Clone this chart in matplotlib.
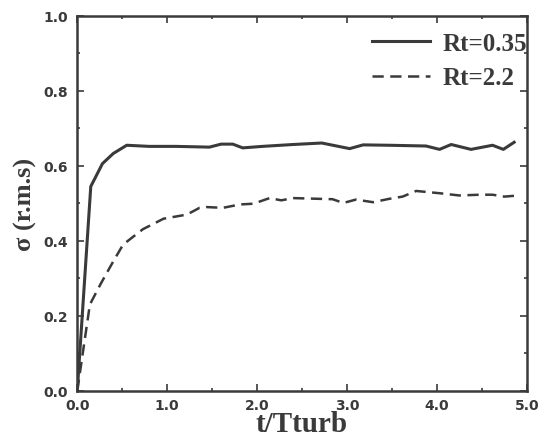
import matplotlib
matplotlib.use("Agg")
import matplotlib.pyplot as plt
from matplotlib.ticker import MultipleLocator, FormatStrFormatter

# Rt = 0.35 (solid)
t_a = [0.0, 0.15, 0.28, 0.40, 0.55, 0.80, 1.10, 1.47, 1.60, 1.73, 1.84, 2.06,
       2.40, 2.72, 3.03, 3.18, 3.47, 3.88, 4.03, 4.16, 4.38, 4.62, 4.74, 4.86]
s_a = [0.0, 0.545, 0.606, 0.633, 0.655, 0.652, 0.652, 0.650, 0.658, 0.658, 0.648, 0.652,
       0.657, 0.661, 0.646, 0.656, 0.655, 0.653, 0.644, 0.657, 0.644, 0.655, 0.644, 0.663]

# Rt = 2.2 (dashed)
t_b = [0.0, 0.14, 0.26, 0.40, 0.51, 0.73, 0.96, 1.22, 1.36, 1.44, 1.62, 1.81, 1.96,
       2.14, 2.27, 2.40, 2.84, 2.96, 3.10, 3.29, 3.47, 3.62, 3.77, 4.03, 4.25, 4.48,
       4.62, 4.75, 4.86]
s_b = [0.0, 0.23, 0.285, 0.345, 0.39, 0.431, 0.459, 0.47, 0.488, 0.49, 0.488, 0.497, 0.499,
       0.514, 0.508, 0.514, 0.511, 0.501, 0.51, 0.503, 0.512, 0.518, 0.533, 0.527, 0.521, 0.523,
       0.523, 0.518, 0.52]

labels = ["Rt=0.35", "Rt=2.2"]
ink = "#3a3a3a"

fig = plt.figure(figsize=(5.39, 4.39), dpi=100)
ax = fig.add_axes([0.1434, 0.1078, 0.8338, 0.8535])

ax.plot(t_a, s_a, color=ink, lw=2.2, label=labels[0])
line_b, = ax.plot(t_b, s_b, color=ink, lw=1.8, label=labels[1])
line_b.set_dashes((4.5, 2.6))

ax.set_xlim(0, 5)
ax.set_ylim(0, 1)
ax.xaxis.set_major_locator(MultipleLocator(1.0))
ax.xaxis.set_minor_locator(MultipleLocator(0.5))
ax.yaxis.set_major_locator(MultipleLocator(0.2))
ax.yaxis.set_minor_locator(MultipleLocator(0.1))
ax.xaxis.set_major_formatter(FormatStrFormatter("%.1f"))
ax.yaxis.set_major_formatter(FormatStrFormatter("%.1f"))

for sp in ax.spines.values():
    sp.set_linewidth(1.8)
    sp.set_color(ink)

ax.tick_params(which="both", direction="in", top=True, right=True, colors=ink, width=1.2)
ax.tick_params(which="major", length=5)
ax.tick_params(which="minor", length=2.5)
ax.tick_params(axis="x", pad=5)
ax.tick_params(axis="y", pad=7)
for lab in ax.get_xticklabels() + ax.get_yticklabels():
    lab.set_fontfamily("DejaVu Sans")
    lab.set_fontweight("bold")
    lab.set_fontsize(10)
    lab.set_color(ink)

# label sits tight under the ticks, as in the scan
ax.set_xlabel("t/Tturb", family="Liberation Serif", fontweight="bold",
              fontsize=21, color=ink, labelpad=-1)
ax.set_ylabel("σ (r.m.s)", family="Liberation Serif", fontweight="bold",
              fontsize=19, color=ink, labelpad=4)

leg = ax.legend(loc="upper right", bbox_to_anchor=(1.0, 0.957), frameon=False,
                prop={"family": "Liberation Serif", "weight": "bold", "size": 18},
                handlelength=2.3, handletextpad=0.5, borderaxespad=0, borderpad=0,
                labelspacing=0.45)
for txt in leg.get_texts():
    txt.set_color(ink)

fig.savefig("out.png", dpi=100)
